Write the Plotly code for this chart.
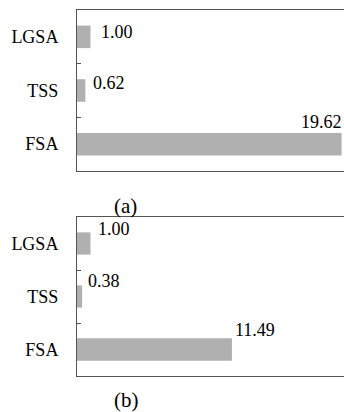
import plotly.graph_objects as go

categories = ["FSA", "TSS", "LGSA"]
values_a = [19.62, 0.62, 1.00]
values_b = [11.49, 0.38, 1.00]
labels_a = ["19.62", "0.62", "1.00"]
labels_b = ["11.49", "0.38", "1.00"]
panel_titles = ["(a)", "(b)"]

FONT = "'Liberation Serif', 'Times New Roman', serif"
W, H = 344, 412

def py(px):
    return 1 - px / H

fig = go.Figure()
bar_style = dict(
    orientation="h", width=0.42,
    marker=dict(color="#a0a0a0", line=dict(width=0),
                pattern=dict(shape=".", fgcolor="#666666", bgcolor="#c4c4c4", size=2, solidity=0.5)),
    showlegend=False, hoverinfo="skip",
)
fig.add_trace(go.Bar(x=values_a, y=categories, xaxis="x", yaxis="y", **bar_style))
fig.add_trace(go.Bar(x=values_b, y=categories, xaxis="x2", yaxis="y2", **bar_style))

xdom = [77 / W, 1]
axis_line = dict(showline=True, linecolor="#555555", linewidth=1, mirror=True, showgrid=False, zeroline=False)
fig.update_layout(
    width=W, height=H, margin=dict(l=0, r=0, t=0, b=0),
    paper_bgcolor="white", plot_bgcolor="white",
    font=dict(family=FONT, size=18, color="#000000"),
    xaxis=dict(domain=xdom, range=[0, 19.8], showticklabels=False, ticks="", anchor="y", **axis_line),
    yaxis=dict(domain=[py(171), py(10)], anchor="x", type="category", categoryorder="array",
               categoryarray=categories, range=[-0.5, 2.5], ticks="inside", ticklen=4, tickcolor="#555555",
               tickson="boundaries", ticklabelstandoff=14, automargin=False, **axis_line),
    xaxis2=dict(domain=xdom, range=[0, 19.8], showticklabels=False, ticks="", anchor="y2", **axis_line),
    yaxis2=dict(domain=[py(376), py(217)], anchor="x2", type="category", categoryorder="array",
                categoryarray=categories, range=[-0.5, 2.5], ticks="inside", ticklen=4, tickcolor="#555555",
                tickson="boundaries", ticklabelstandoff=14, automargin=False, **axis_line),
)

ann = []
shifts_a = [(2, 22, "right"), (6, 8, "left"), (9, 5, "left")]
for v, c, t, (xs, ys, xa) in zip(values_a, categories, labels_a, shifts_a):
    ann.append(dict(x=v, y=c, xref="x", yref="y", text=t, showarrow=False, xanchor=xa,
                    xshift=xs, yshift=ys, font=dict(family=FONT, size=18, color="#000000")))
shifts_b = [(1, 20, "left"), (4, 16, "left"), (6, 15, "left")]
for v, c, t, (xs, ys, xa) in zip(values_b, categories, labels_b, shifts_b):
    ann.append(dict(x=v, y=c, xref="x2", yref="y2", text=t, showarrow=False, xanchor=xa,
                    xshift=xs, yshift=ys, font=dict(family=FONT, size=18, color="#000000")))
ann.append(dict(x=125 / W, y=py(206), xref="paper", yref="paper", text=panel_titles[0], showarrow=False,
                xanchor="center", yanchor="middle", font=dict(family=FONT, size=21, color="#000000")))
ann.append(dict(x=126 / W, y=py(400), xref="paper", yref="paper", text=panel_titles[1], showarrow=False,
                xanchor="center", yanchor="middle", font=dict(family=FONT, size=21, color="#000000")))
fig.update_layout(annotations=ann)

fig.write_html("out.html")
